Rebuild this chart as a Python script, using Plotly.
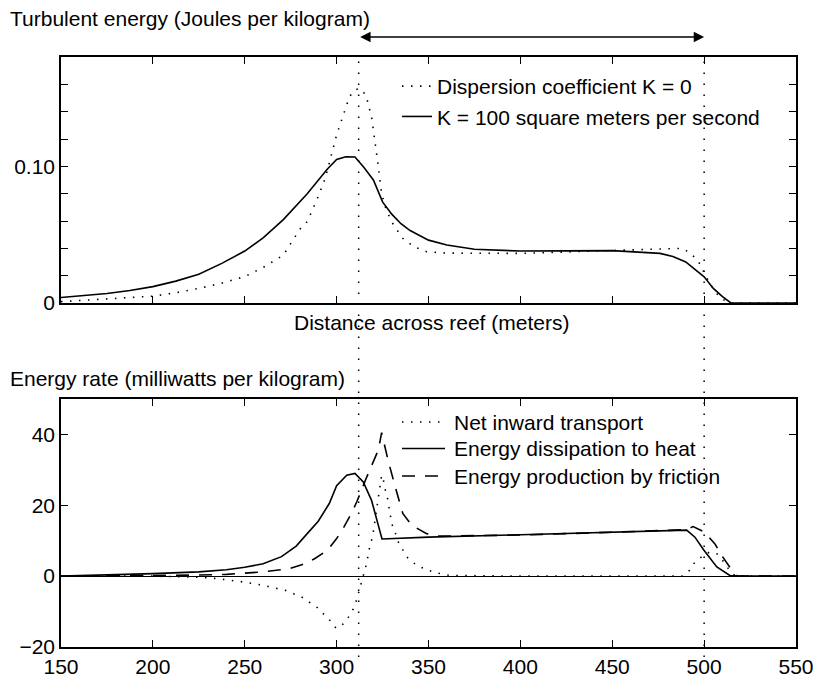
import plotly.graph_objects as go

# ---------------- data ----------------
# Top panel: turbulent energy (J/kg) vs distance across reef (m)
x_k0 = [150, 162.5, 175, 187.5, 200, 212.5, 225, 237.5, 250, 260, 271, 280, 284, 290, 294,
        300, 304, 307, 310, 312.7, 316, 319, 322.7, 324.5, 327, 331, 336, 342, 349, 360,
        400, 450, 478, 488, 492, 496, 498.6, 500.4, 503.2, 506, 509.6, 513, 550]
y_k0 = [0.001, 0.0018, 0.003, 0.004, 0.005, 0.0075, 0.0107, 0.0145, 0.0193, 0.026, 0.035,
        0.054, 0.0595, 0.078, 0.092, 0.123, 0.140, 0.151, 0.156, 0.157, 0.152, 0.136,
        0.100, 0.080, 0.068, 0.057, 0.0473, 0.0412, 0.0375, 0.0365, 0.0363, 0.0387,
        0.040, 0.040, 0.037, 0.032, 0.0266, 0.0205, 0.0144, 0.008, 0.0034, 0.0, 0.0]

x_k100 = [150, 162.5, 175, 187.5, 200, 212.5, 225, 237.5, 250, 260, 271, 284, 290, 295,
          300, 305, 310, 315, 320, 325, 330, 335, 340, 350, 360, 375, 400, 450, 476, 483,
          490, 494, 500, 505, 510, 514.6, 550]
y_k100 = [0.004, 0.0053, 0.007, 0.0092, 0.012, 0.016, 0.021, 0.029, 0.038, 0.0476, 0.061,
          0.080, 0.090, 0.098, 0.105, 0.107, 0.1068, 0.099, 0.090, 0.074, 0.065, 0.058,
          0.053, 0.046, 0.0424, 0.0393, 0.038, 0.0383, 0.0363, 0.034, 0.030, 0.0254,
          0.0192, 0.0107, 0.0046, 0.0, 0.0]

# Bottom panel: energy rate (mW/kg)
x_transport = [150, 200, 225, 235, 250, 260, 272, 281, 289.5, 293, 296.4, 299.7, 303.6,
               306.7, 309.1, 310.9, 313.6, 315.4, 316.3, 317.2, 318.2, 319.6, 321.9,
               323.6, 324.5, 325.4, 326.3, 327.6, 329, 330, 331.8, 333.6, 338.2, 343.6,
               352.7, 361.7, 400, 450, 488, 492, 495, 500, 503, 507, 510, 514, 517, 550]
y_transport = [0, 0, -0.3, -0.7, -1.7, -2.6, -4.0, -5.9, -8.9, -10.6, -12.5, -14.7, -13.5,
               -11.4, -9.2, -6.7, -1.7, 1.1, 3.5, 6.1, 8.7, 11.2, 20.0, 26.0, 28.5, 27.3,
               24.7, 22.3, 17.2, 14.8, 12.4, 9.6, 5.4, 3.0, 1.1, 0.2, 0, 0, 0, 1.6, 4.0,
               6.0, 6.8, 6.3, 4.5, 1.5, 0, 0]

x_dissipation = [150, 175, 200, 225, 240, 250, 260, 270, 278, 284, 290, 296, 300, 305.5,
                 310, 314.5, 319, 324.7, 350, 400, 450, 490.5, 495, 499.6, 506.9, 514,
                 520, 550]
y_dissipation = [0, 0.3, 0.7, 1.2, 1.8, 2.5, 3.5, 5.5, 8.5, 12.0, 15.5, 20.5, 25.5, 28.5,
                 29.0, 26.6, 21.4, 10.5, 11.0, 11.7, 12.4, 13.0, 11.0, 7.5, 2.6, 0.2, 0, 0]

x_production = [150, 200, 225, 240, 260, 274, 281, 288, 295, 300, 304, 308, 311, 316,
                320, 322.7, 324.5, 328, 332, 336, 341, 349, 355, 400, 450, 490, 494, 500,
                506, 510, 514, 518, 550]
y_production = [0, 0.1, 0.3, 0.5, 1.2, 2.1, 3.2, 4.9, 7.3, 10.6, 13.9, 17.7, 21.0, 27.5,
                32.3, 35.6, 40.5, 32.7, 25.0, 17.7, 14.3, 12.0, 11.3, 11.6, 12.4, 13.1,
                14.0, 12.5, 9.0, 5.5, 2.5, 0, 0]

x_ticks = [150, 200, 250, 300, 350, 400, 450, 500, 550]
top_y_ticks = [0, 0.02, 0.04, 0.06, 0.08, 0.10, 0.12, 0.14, 0.16, 0.18]
top_y_text = ["0", "", "", "", "", "0.10", "", "", "", ""]
bottom_y_ticks = [-20, 0, 20, 40]

reef_start, reef_end = 312, 500

top_names = ["Dispersion coefficient K = 0", "K = 100 square meters per second"]
bottom_names = ["Net inward transport", "Energy dissipation to heat",
                "Energy production by friction"]

# ---------------- styles ----------------
FONT = "Liberation Sans, Arial, Helvetica, sans-serif"
FS = 21
DOT = "1.5px,7.5px"
DASH = "13px,10px"
LW = 1.6

# plot area in pixels: x 61..796, y 57..647
PX_L, PX_R, PX_T, PX_B = 61, 796, 57, 647


def px(xp):
    return (xp - PX_L) / (PX_R - PX_L)


def py(yp):
    return (PX_B - yp) / (PX_B - PX_T)


fig = go.Figure()

fig.add_trace(go.Scatter(x=x_k0, y=y_k0, mode="lines", name=top_names[0],
                         line=dict(color="black", width=LW, dash=DOT),
                         xaxis="x", yaxis="y", showlegend=True))
fig.add_trace(go.Scatter(x=x_k100, y=y_k100, mode="lines", name=top_names[1],
                         line=dict(color="black", width=LW),
                         xaxis="x", yaxis="y", showlegend=True))

bottom_styles = [dict(color="black", width=LW, dash=DOT),
                 dict(color="black", width=LW),
                 dict(color="black", width=LW, dash=DASH)]
for xs, ys, nm, st in zip([x_transport, x_dissipation, x_production],
                          [y_transport, y_dissipation, y_production],
                          bottom_names, bottom_styles):
    fig.add_trace(go.Scatter(x=xs, y=ys, mode="lines", name=nm, line=st,
                             xaxis="x2", yaxis="y2", showlegend=False))

axis_common = dict(showline=True, linecolor="black", linewidth=1.5, mirror="ticks",
                   ticks="inside", ticklen=7, tickwidth=1.2, tickcolor="black",
                   showgrid=False, zeroline=False, automargin=False,
                   tickfont=dict(family=FONT, size=FS, color="black"))

top_dom = [py(303), 1.0]
bot_dom = [0.0, py(399)]

fig.update_layout(
    template="none",
    width=813, height=678,
    margin=dict(l=PX_L, r=813 - PX_R, t=PX_T, b=678 - PX_B, autoexpand=False),
    paper_bgcolor="white", plot_bgcolor="white",
    font=dict(family=FONT, size=FS, color="black"),
    xaxis=dict(axis_common, domain=[0, 1], range=[150, 550], tickvals=x_ticks,
               showticklabels=False, anchor="y"),
    yaxis=dict(axis_common, domain=top_dom, range=[0, 0.18], tickvals=top_y_ticks,
               ticktext=top_y_text, anchor="x"),
    xaxis2=dict(axis_common, domain=[0, 1], range=[150, 550], tickvals=x_ticks,
                anchor="y2", ticklabeloverflow="allow"),
    yaxis2=dict(axis_common, domain=bot_dom, range=[-20, 50], tickvals=bottom_y_ticks,
                anchor="x2", zeroline=True, zerolinecolor="black", zerolinewidth=1.2),
    legend=dict(x=px(397), y=py(66), xanchor="left", yanchor="top",
                bgcolor="rgba(0,0,0,0)", borderwidth=0,
                font=dict(family=FONT, size=FS, color="black"), tracegroupgap=0),
    showlegend=True,
)

# legend for the bottom panel (sample line + label per series)
bottom_rows = [422, 448.5, 476]
for nm, st, yr in zip(bottom_names, bottom_styles, bottom_rows):
    fig.add_shape(type="line", xref="paper", yref="paper", x0=px(402), x1=px(445),
                  y0=py(yr), y1=py(yr), line=st)
    fig.add_annotation(xref="paper", yref="paper", x=px(452), y=py(yr),
                       xanchor="left", yanchor="middle", showarrow=False, text=nm,
                       font=dict(family=FONT, size=FS, color="black"))

# vertical dotted markers spanning both panels
for xv in (reef_start, reef_end):
    fig.add_shape(type="line", xref="x", yref="paper", x0=xv, x1=xv,
                  y0=py(657), y1=1.0,
                  line=dict(color="black", width=1.5, dash="1.5px,9.5px"))

# double-headed arrow above the top panel
fig.add_annotation(xref="x", yref="paper", x=reef_end, y=py(37),
                   ax=-(reef_end - reef_start) * (PX_R - PX_L) / 400, ay=0,
                   axref="pixel", ayref="pixel", text="", showarrow=True,
                   arrowhead=2, startarrowhead=2, arrowside="end+start",
                   arrowsize=1.3, startarrowsize=1.3, arrowwidth=1.6, arrowcolor="black")

# titles
fig.add_annotation(xref="paper", yref="paper", x=px(8), y=py(18),
                   xanchor="left", yanchor="middle", showarrow=False,
                   text="Turbulent energy (Joules per kilogram)",
                   font=dict(family=FONT, size=FS, color="black"))
fig.add_annotation(xref="paper", yref="paper", x=px(431), y=py(322),
                   xanchor="center", yanchor="middle", showarrow=False,
                   text="Distance across reef (meters)",
                   font=dict(family=FONT, size=FS, color="black"))
fig.add_annotation(xref="paper", yref="paper", x=px(8), y=py(378),
                   xanchor="left", yanchor="middle", showarrow=False,
                   text="Energy rate (milliwatts per kilogram)",
                   font=dict(family=FONT, size=FS, color="black"))

fig.write_html("out.html")
